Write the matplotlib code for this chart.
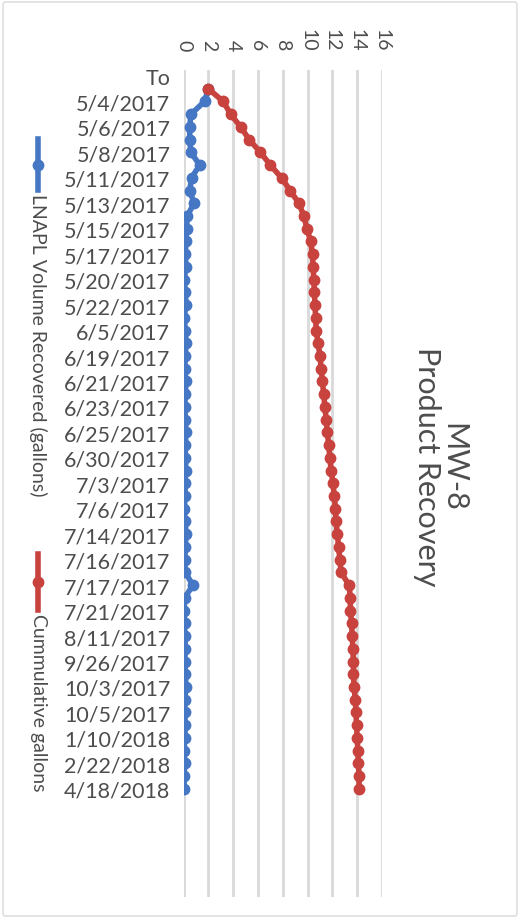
import numpy as np
import matplotlib
matplotlib.use("Agg")
import matplotlib.pyplot as plt
from matplotlib.lines import Line2D
from matplotlib.patches import FancyBboxPatch

plt.rcParams['font.family'] = ['Lato', 'DejaVu Sans']

# Category labels (every other sampling event is labelled on the axis)
tick_labels = [
    "To", "5/4/2017", "5/6/2017", "5/8/2017", "5/11/2017", "5/13/2017",
    "5/15/2017", "5/17/2017", "5/20/2017", "5/22/2017", "6/5/2017",
    "6/19/2017", "6/21/2017", "6/23/2017", "6/25/2017", "6/30/2017",
    "7/3/2017", "7/6/2017", "7/14/2017", "7/16/2017", "7/17/2017",
    "7/21/2017", "8/11/2017", "9/26/2017", "10/3/2017", "10/5/2017",
    "1/10/2018", "2/22/2018", "4/18/2018",
]
n_categories = 65  # data range includes trailing blank rows

# LNAPL volume recovered per event (gallons); first row has no value
lnapl_volume = [
    np.nan, 2.0, 1.7, 0.6, 0.5, 0.5, 0.6, 1.3, 0.65, 0.5,
    0.85, 0.3, 0.25, 0.2, 0.15, 0.2, 0.05, 0.15, 0.2, 0.05,
    0.15, 0.2, 0.15, 0.1, 0.2, 0.15, 0.1, 0.15, 0.2, 0.15,
    0.15, 0.2, 0.1, 0.15, 0.05, 0.15, 0.2, 0.15, 0.1, 0.15,
    0.75, 0.1, 0.05, 0.1, 0.1, 0.15, 0.1, 0.15, 0.2, 0.1,
    0.1, 0.15, 0.1, 0.05, 0.1, 0.05, 0.05,
]

# Cumulative gallons recovered
cumulative_gallons = [
    np.nan, 2.0, 3.2, 3.8, 4.6, 5.3, 6.2, 7.0, 7.9, 8.6,
    9.3, 9.7, 9.95, 10.25, 10.4, 10.45, 10.5, 10.55, 10.6, 10.65,
    10.7, 10.85, 11.0, 11.1, 11.2, 11.3, 11.4, 11.5, 11.6, 11.7,
    11.8, 11.9, 12.05, 12.15, 12.25, 12.3, 12.4, 12.5, 12.6, 12.7,
    13.35, 13.45, 13.45, 13.55, 13.6, 13.65, 13.7, 13.7, 13.75, 13.85,
    13.9, 13.95, 14.0, 14.05, 14.1, 14.15, 14.15,
]

value_ticks = [0, 2, 4, 6, 8, 10, 12, 14, 16]

blue = "#4677C4"
red = "#C8423E"
text_grey = "#4D4D4D"
grid_grey = "#D9D9D9"

W, H, DPI = 523, 920, 100
fig = plt.figure(figsize=(W / DPI, H / DPI), dpi=DPI)

# light chart-area frame
frame = FancyBboxPatch((3 / W, 3 / H), 514 / W, 914 / H,
                       boxstyle="round,pad=0,rounding_size=0.004",
                       transform=fig.transFigure, facecolor="none",
                       edgecolor=grid_grey, linewidth=1.0, zorder=-1)
fig.patches.append(frame)

left, right = 183.5 / W, 382 / W
top, bottom = 1 - 70.6 / H, 1 - 898 / H
ax = fig.add_axes([left, bottom, right - left, top - bottom])
ax.set_facecolor("none")

line_w, mark_s = 4.0, 7.5
idx = np.arange(len(lnapl_volume))
ax.plot(lnapl_volume, idx, color=blue, lw=line_w, marker="o", ms=mark_s,
        mec=blue, mfc=blue, zorder=3)
ax.plot(cumulative_gallons, idx, color=red, lw=line_w, marker="o",
        ms=mark_s, mec=red, mfc=red, zorder=4)

ax.set_xlim(0, 16)
ax.set_ylim(n_categories - 0.5, -0.5)
ax.set_xticks(value_ticks)
ax.set_xticklabels([str(v) for v in value_ticks])
ax.xaxis.tick_top()
ax.tick_params(axis="x", length=0, pad=14, labelsize=14,
               labelcolor=text_grey, labelrotation=-90)
ax.set_yticks(np.arange(0, 2 * len(tick_labels), 2))
ax.set_yticklabels(tick_labels)
ax.tick_params(axis="y", length=0, pad=9.5, labelsize=15.5,
               labelcolor=text_grey)
ax.grid(axis="x", color=grid_grey, lw=2.0, zorder=0)
ax.set_axisbelow(True)
for s in ax.spines.values():
    s.set_visible(False)

# title, rotated with the chart
fig.text(440 / W, 1 - 467 / H, "MW-8\nProduct Recovery", rotation=-90,
         ha="center", va="center", multialignment="center",
         fontsize=22, color=text_grey, linespacing=0.95)

# legend, rotated with the chart
def legend_entry(y0, y1, color, label):
    x = 38 / W
    fig.add_artist(Line2D([x, x], [1 - y0 / H, 1 - y1 / H], color=color,
                          lw=line_w, transform=fig.transFigure))
    fig.add_artist(Line2D([x], [1 - (y0 + y1) / 2 / H], color=color,
                          marker="o", ms=mark_s, transform=fig.transFigure))
    fig.text(x, 1 - (y1 + 3) / H, label, rotation=-90, ha="center",
             va="top", fontsize=14, color=text_grey)

legend_entry(140, 191, blue, "LNAPL Volume Recovered (gallons)")
legend_entry(555, 611, red, "Cummulative gallons")

fig.savefig("out.png", dpi=DPI)
